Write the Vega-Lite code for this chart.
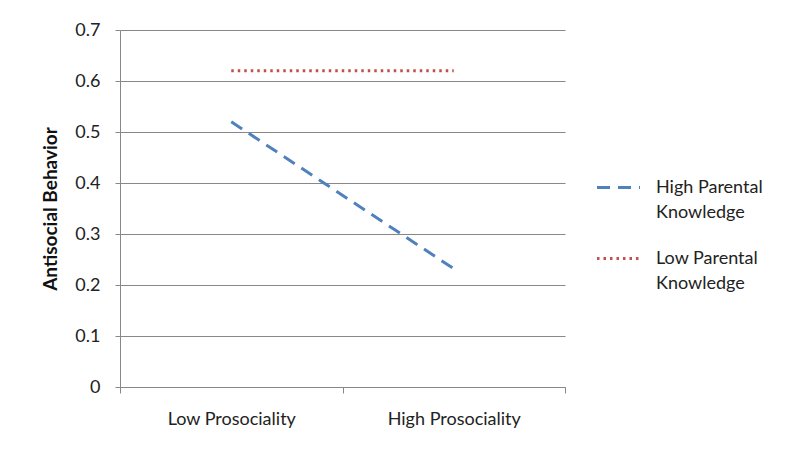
{
  "$schema": "https://vega.github.io/schema/vega-lite/v6.json",
  "autosize": "none",
  "width": 445,
  "height": 357,
  "padding": {"left": 120, "top": 30, "right": 235, "bottom": 80},
  "background": "white",
  "config": {
    "view": {"stroke": null},
    "font": "Lato",
    "axis": {"labelFont": "Lato", "titleFont": "Lato", "labelColor": "#222", "titleColor": "#111"},
    "style": {"guide-label": {"lineHeight": 25}}
  },
  "data": {
    "values": [
      {"prosociality": "Low Prosociality", "group": "High Parental Knowledge", "value": 0.52},
      {"prosociality": "High Prosociality", "group": "High Parental Knowledge", "value": 0.232},
      {"prosociality": "Low Prosociality", "group": "Low Parental Knowledge", "value": 0.62},
      {"prosociality": "High Prosociality", "group": "Low Parental Knowledge", "value": 0.62}
    ]
  },
  "mark": {"type": "line", "strokeWidth": 3},
  "encoding": {
    "x": {
      "field": "prosociality",
      "type": "nominal",
      "sort": ["Low Prosociality", "High Prosociality"],
      "scale": {"type": "band", "paddingInner": 0, "paddingOuter": 0},
      "axis": {
        "title": null,
        "labelAngle": 0,
        "labelFontSize": 18,
        "labelPadding": 17,
        "tickBand": "extent",
        "tickSize": 6,
        "tickColor": "#888",
        "domainColor": "#888",
        "grid": false
      }
    },
    "y": {
      "field": "value",
      "type": "quantitative",
      "scale": {"domain": [0, 0.7], "nice": false},
      "axis": {
        "title": "Antisocial Behavior",
        "titleFontSize": 19,
        "titleFontWeight": "bold",
        "titlePadding": 14,
        "values": [0, 0.1, 0.2, 0.3, 0.4, 0.5, 0.6, 0.7],
        "format": "~g",
        "labelFontSize": 18,
        "labelPadding": 15,
        "tickSize": 5,
        "tickColor": "#888",
        "domainColor": "#888",
        "gridColor": "#888",
        "gridWidth": 1
      }
    },
    "color": {
      "field": "group",
      "type": "nominal",
      "scale": {"domain": ["High Parental Knowledge", "Low Parental Knowledge"], "range": ["#4F81BD", "#C0504D"]},
      "legend": {
        "title": null,
        "orient": "none",
        "legendX": 475,
        "legendY": 134,
        "symbolType": "stroke",
        "symbolSize": 1850,
        "symbolStrokeWidth": 3,
        "labelFontSize": 18,
        "labelColor": "#222",
        "labelOffset": 14,
        "rowPadding": 13,
        "labelLimit": 300,
        "labelExpr": "datum.label == 'High Parental Knowledge' ? ['High Parental', 'Knowledge'] : ['Low Parental', 'Knowledge']"
      }
    },
    "strokeDash": {
      "field": "group",
      "type": "nominal",
      "scale": {"domain": ["High Parental Knowledge", "Low Parental Knowledge"], "range": [[13, 8], [2.5, 4]]},
      "legend": null
    }
  }
}
